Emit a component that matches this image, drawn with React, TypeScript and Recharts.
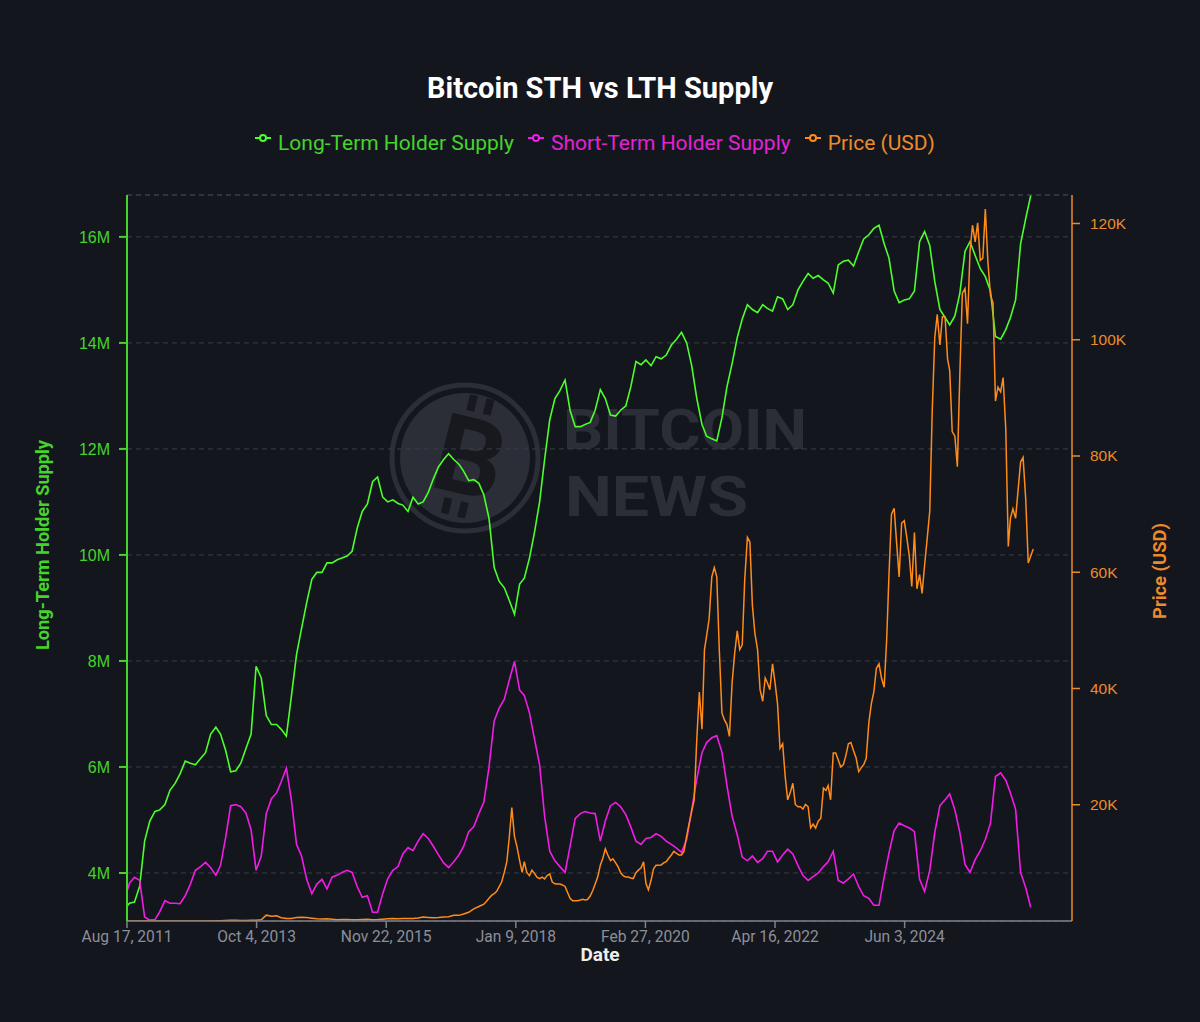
import { ComposedChart, Line, XAxis, YAxis, CartesianGrid, ReferenceLine } from 'recharts'

const BG = '#14161e'
const GREEN = '#4cff2b'
const GREEN_TEXT = '#45d42b'
const MAGENTA = '#f21ce6'
const MAGENTA_TEXT = '#e322d6'
const ORANGE = '#ff8c1a'
const ORANGE_TEXT = '#ec8b2a'

// first point is the start date, then one point per month from Sep 2011
const START_DATE = '2011-08-17'
const FIRST_MONTH = [2011, 8] // year, 0-based month
// price is read twice a month (1st and 16th) from this month index on (Jul 2017)
const PRICE_SEMI_MONTHLY_FROM = 70
const X_END = '2027-03-06'
const TICK_DATES = ['2011-08-17', '2013-10-04', '2015-11-22', '2018-01-09', '2020-02-27', '2022-04-16', '2024-06-03']
const MONTH_NAMES = ['Jan', 'Feb', 'Mar', 'Apr', 'May', 'Jun', 'Jul', 'Aug', 'Sep', 'Oct', 'Nov', 'Dec']

// millions of BTC
const LTH_SUPPLY_M = [
  3.38,
  3.43, 3.45, 3.75, 4.6, 4.98, 5.16, 5.19, 5.29, 5.56, 5.69,
  5.87, 6.11, 6.07, 6.04, 6.16, 6.27, 6.62, 6.75, 6.62, 6.31,
  5.91, 5.93, 6.07, 6.35, 6.62, 7.9, 7.68, 6.97, 6.8, 6.8,
  6.71, 6.58, 7.33, 8.12, 8.61, 9.1, 9.54, 9.67,
  9.67, 9.85, 9.85, 9.91, 9.94, 9.98, 10.07, 10.51, 10.82, 10.96,
  11.38, 11.47, 11.09, 11.0, 11.04, 10.97, 10.94, 10.82, 11.09, 10.96,
  11.0, 11.18, 11.44, 11.66, 11.8, 11.91, 11.8, 11.71, 11.58, 11.4,
  11.42, 11.35, 11.13, 10.69, 9.76, 9.5, 9.38, 9.14, 8.88,
  9.45, 9.56, 9.94, 10.42, 11.0, 11.8, 12.55, 12.95, 13.1, 13.3,
  12.73, 12.42, 12.42, 12.46, 12.5, 12.73, 13.12, 12.95, 12.64, 12.62,
  12.73, 12.81, 13.17, 13.65, 13.59, 13.68, 13.57, 13.74, 13.7, 13.77,
  13.96, 14.07, 14.2, 14.0, 13.57, 12.95, 12.46, 12.24,
  12.19, 12.15, 12.59, 13.17, 13.61, 14.1, 14.45, 14.72, 14.63, 14.57,
  14.72, 14.65, 14.6, 14.87, 14.83, 14.63, 14.72, 15.0, 15.16, 15.31,
  15.22, 15.27, 15.19, 15.13, 14.94, 15.47, 15.54, 15.56, 15.45, 15.72,
  15.96, 16.04, 16.16, 16.22, 15.87, 15.6, 14.98, 14.76, 14.81, 14.83,
  14.98, 15.91, 16.1, 15.84, 15.16, 14.63, 14.48, 14.34, 14.51, 14.94,
  15.73, 15.91, 15.65, 15.4, 15.25, 14.98, 14.12, 14.07, 14.25, 14.48,
  14.81, 15.87, 16.35, 16.78,
]

const STH_SUPPLY_M = [
  3.65,
  3.81, 3.92, 3.86, 3.17, 3.11, 3.12, 3.27, 3.48, 3.43, 3.43,
  3.42, 3.57, 3.79, 4.05, 4.12, 4.2, 4.1, 3.96, 4.14, 4.67,
  5.27, 5.29, 5.25, 5.13, 4.81, 4.05, 4.32, 5.12, 5.4, 5.51,
  5.72, 5.98, 5.38, 4.54, 4.32, 3.88, 3.61, 3.79,
  3.88, 3.7, 3.92, 3.96, 4.01, 4.05, 4.01, 3.74, 3.54, 3.57,
  3.26, 3.26, 3.61, 3.89, 4.05, 4.12, 4.36, 4.48, 4.42, 4.6,
  4.74, 4.65, 4.5, 4.34, 4.19, 4.1, 4.21, 4.34, 4.5, 4.78,
  4.87, 5.12, 5.34, 6.0, 6.87, 7.11, 7.28, 7.64, 7.99,
  7.45, 7.35, 7.02, 6.53, 6.04, 5.07, 4.41, 4.23, 4.12, 4.01,
  4.5, 5.03, 5.12, 5.16, 5.13, 5.12, 4.6, 4.98, 5.27, 5.33,
  5.25, 5.1, 4.87, 4.6, 4.54, 4.65, 4.67, 4.74, 4.69, 4.6,
  4.54, 4.47, 4.39, 4.63, 5.19, 5.78, 6.27, 6.46,
  6.55, 6.59, 6.28, 5.65, 5.07, 4.72, 4.3, 4.23, 4.32, 4.2,
  4.27, 4.41, 4.41, 4.21, 4.34, 4.45, 4.36, 4.14, 3.95, 3.86,
  3.93, 4.0, 4.12, 4.21, 4.41, 3.86, 3.81, 3.89, 3.98, 3.74,
  3.57, 3.52, 3.39, 3.39, 3.92, 4.38, 4.8, 4.94, 4.89, 4.85,
  4.78, 3.88, 3.65, 4.05, 4.76, 5.27, 5.38, 5.49, 5.19, 4.76,
  4.16, 4.01, 4.25, 4.42, 4.63, 4.94, 5.82, 5.89, 5.75, 5.51,
  5.2, 4.01, 3.72, 3.35,
]

// USD: monthly up to Jun 2017, then 1st / 16th of each month
const PRICE_USD = [
  11,
  5, 3.5, 3, 4, 6, 5, 5, 5, 5, 6,
  7, 10, 11, 12, 11, 13, 14, 22, 34, 100,
  130, 120, 90, 100, 130, 140, 200, 1000, 800, 900,
  560, 450, 450, 620, 640, 590, 480, 390,
  330, 380, 320, 220, 250, 240, 235, 230, 260, 280,
  230, 240, 310, 380, 430, 370, 440, 415, 450, 530,
  670, 620, 570, 610, 700, 750, 970, 970, 1200, 1500,
  2100, 2500,
  2900, 3350, 3900, 4400, 4700, 5100, 5900, 6700, 8400, 10200,
  14500, 19500, 14500, 12800, 10400, 8350, 10200, 8350, 7800, 8750,
  8200, 7550, 7300, 7550, 7250, 7800, 8100, 6700, 6400, 6350,
  6350, 6200, 5950, 4900, 3900, 3500, 3500, 3500, 3600, 3750,
  3600, 3700, 4300, 5200, 6350, 7550, 9600, 10800, 12400, 11350,
  10400, 10700, 10000, 9300, 8300, 7800, 7550, 7550, 7400, 7300,
  8300, 8750, 9150, 10200, 6500, 5350, 7000, 9000, 9600, 9600,
  9650, 10000, 10200, 10800, 11350, 12000, 11650, 11350, 11350, 12000,
  14650, 16800, 18850, 20850, 31350, 39400, 33000, 46700, 49100, 52000,
  59200, 60800, 59200, 46700, 35800, 34600, 33800, 31750, 41000, 45900,
  49900, 46700, 47500, 58800, 66000, 65200, 54300, 49500, 46700, 39800,
  37800, 41800, 41000, 39800, 44250, 41000, 37400, 29700, 30500, 24900,
  20850, 22050, 23700, 20050, 19650, 19650, 19250, 20050, 19650, 16000,
  16650, 16000, 17200, 17650, 22850, 22450, 23300, 20850, 28900, 28900,
  27700, 26500, 26900, 28500, 30500, 30700, 29300, 28100, 25700, 26350,
  26900, 27950, 34150, 37400, 39400, 43450, 44250, 41800, 40200, 48300,
  59600, 70000, 71000, 65000, 59200, 68450, 68850, 66000, 62800, 57550,
  66850, 57150, 59600, 56350, 61200, 65600, 70500, 87800, 100300, 104350,
  99100, 103950, 103950, 96700, 94700, 84200, 83400, 78150, 94300, 108000,
  108800, 102750, 115250, 119700, 116850, 120100, 113650, 114050, 122500, 113650,
  107600, 106400, 89450, 91850, 91050, 93500, 84600, 64450, 69300, 70900,
  69300, 74150, 78950, 79750, 72500, 61600, 62800, 64000,
]

const LEFT_TICKS = [4e6, 6e6, 8e6, 10e6, 12e6, 14e6, 16e6]
const RIGHT_TICKS = [20000, 40000, 60000, 80000, 100000, 120000]
const LEFT_DOMAIN = [3.094e6, 16.79e6]
const RIGHT_DOMAIN = [0, 124900]

const toTime = (s: string) => Date.parse(s + 'T00:00:00Z')
const monthStart = (k: number, day = 1) => Date.UTC(FIRST_MONTH[0], FIRST_MONTH[1] + k, day)

const supplyData = LTH_SUPPLY_M.map((v, i) => ({
  t: i === 0 ? toTime(START_DATE) : monthStart(i - 1),
  lth: v * 1e6,
  sth: STH_SUPPLY_M[i] * 1e6,
}))

const priceDates = [toTime(START_DATE)]
for (let k = 0; priceDates.length < PRICE_USD.length; k++) {
  priceDates.push(monthStart(k))
  if (k >= PRICE_SEMI_MONTHLY_FROM) priceDates.push(monthStart(k, 16))
}
const priceData = PRICE_USD.map((p, i) => ({ t: priceDates[i], price: p }))

const fmtDate = (v: number) => {
  const d = new Date(v)
  return `${MONTH_NAMES[d.getUTCMonth()]} ${d.getUTCDate()}, ${d.getUTCFullYear()}`
}

const LEGEND = [
  { label: 'Long-Term Holder Supply', color: GREEN, text: GREEN_TEXT },
  { label: 'Short-Term Holder Supply', color: MAGENTA, text: MAGENTA_TEXT },
  { label: 'Price (USD)', color: ORANGE, text: ORANGE_TEXT },
]

function Backdrop() {
  const wm = '#2b2e37'
  return (
    <svg width={1200} height={1022} style={{ position: 'absolute', left: 0, top: 0 }}>
      <rect width={1200} height={1022} fill={BG} />
      {/* watermark */}
      <circle cx={465} cy={458} r={73} fill="none" stroke={wm} strokeWidth={5} />
      <circle cx={465} cy={458} r={65} fill={wm} />
      <g transform="rotate(14 470 457)" fill="#17191f">
        <rect x={455} y={396} width={8} height={16} />
        <rect x={472} y={396} width={8} height={16} />
        <rect x={455} y={502} width={8} height={16} />
        <rect x={472} y={502} width={8} height={16} />
        <text x={470} y={495} textAnchor="middle" fontSize={108} fontWeight={700} fontFamily="Roboto">B</text>
      </g>
      <text x={563} y={449} fontSize={55} fontWeight={700} fontFamily="Roboto" fill={wm}
        textLength={244} lengthAdjust="spacingAndGlyphs">BITCOIN</text>
      <text x={565} y={516} fontSize={55} fontWeight={700} fontFamily="Roboto" fill={wm}
        textLength={183} lengthAdjust="spacingAndGlyphs">NEWS</text>

      <text x={600} y={98} textAnchor="middle" fontSize={29} fontWeight={700} fontFamily="Roboto" fill="#ffffff">
        Bitcoin STH vs LTH Supply
      </text>
      <text x={600} y={961} textAnchor="middle" fontSize={19} fontWeight={700} fontFamily="Roboto" fill="#eeeeee">
        Date
      </text>
      <text x={49} y={545} transform="rotate(-90 49 545)" textAnchor="middle" fontSize={18.2} fontWeight={700}
        fontFamily="Roboto" fill={GREEN_TEXT}>Long-Term Holder Supply</text>
      <text x={1166} y={571} transform="rotate(-90 1166 571)" textAnchor="middle" fontSize={18.4} fontWeight={700}
        fontFamily="Roboto" fill={ORANGE_TEXT}>Price (USD)</text>
    </svg>
  )
}

function LegendRow() {
  return (
    <div style={{ position: 'absolute', left: 255, top: 128, display: 'flex', alignItems: 'center',
      fontFamily: 'Roboto', fontSize: 21, gap: 14 }}>
      {LEGEND.map((l) => (
        <div key={l.label} style={{ display: 'flex', alignItems: 'center' }}>
          <svg width={16} height={24} style={{ marginRight: 7 }}>
            <line x1={0} y1={7} x2={16} y2={7} stroke={l.color} strokeWidth={2} />
            <circle cx={8} cy={7} r={3} fill={BG} stroke={l.color} strokeWidth={2} />
          </svg>
          <span style={{ color: l.text, lineHeight: '30px' }}>{l.label}</span>
        </div>
      ))}
    </div>
  )
}

export default function App() {
  return (
    <div style={{ position: 'absolute', left: 0, top: 0, width: 1200, height: 1022, background: BG }}>
      <Backdrop />
      <LegendRow />
      <div style={{ position: 'absolute', left: 0, top: 0 }}>
        <ComposedChart width={1200} height={1022} margin={{ top: 195, right: 0, bottom: 41, left: 0 }}>
          <CartesianGrid yAxisId="left" vertical={false} stroke="#3a3d47" strokeDasharray="5 4" />
          <ReferenceLine yAxisId="left" y={LEFT_DOMAIN[1]} stroke="#3a3d47" strokeDasharray="5 4" />
          <XAxis
            dataKey="t"
            type="number"
            domain={[toTime(START_DATE), toTime(X_END)]}
            ticks={TICK_DATES.map(toTime)}
            tickFormatter={fmtDate}
            allowDataOverflow
            height={60}
            stroke="#7f828c"
            strokeWidth={1.5}
            tickSize={7}
            tickMargin={3}
            tick={{ fill: '#8c8f99', fontSize: 15.6, fontFamily: 'Roboto' }}
          />
          <YAxis
            yAxisId="left"
            width={127}
            domain={LEFT_DOMAIN}
            ticks={LEFT_TICKS}
            allowDataOverflow
            tickFormatter={(v: number) => `${v / 1e6}M`}
            stroke={GREEN_TEXT}
            strokeWidth={2}
            tickSize={8}
            tickMargin={9}
            tick={{ fill: GREEN_TEXT, fontSize: 16, fontFamily: 'Liberation Sans' }}
          />
          <YAxis
            yAxisId="right"
            orientation="right"
            width={128}
            domain={RIGHT_DOMAIN}
            ticks={RIGHT_TICKS}
            allowDataOverflow
            tickFormatter={(v: number) => `${v / 1000}K`}
            stroke={ORANGE_TEXT}
            strokeWidth={1.5}
            tickSize={8}
            tickMargin={10}
            tick={{ fill: ORANGE_TEXT, fontSize: 15.5, fontFamily: 'Liberation Sans' }}
          />
          <Line yAxisId="left" data={supplyData} dataKey="lth" stroke={GREEN} strokeWidth={1.6} dot={false} isAnimationActive={false} />
          <Line yAxisId="left" data={supplyData} dataKey="sth" stroke={MAGENTA} strokeWidth={1.6} dot={false} isAnimationActive={false} />
          <Line yAxisId="right" data={priceData} dataKey="price" stroke={ORANGE} strokeWidth={1.5} dot={false} isAnimationActive={false} />
        </ComposedChart>
      </div>
    </div>
  )
}
